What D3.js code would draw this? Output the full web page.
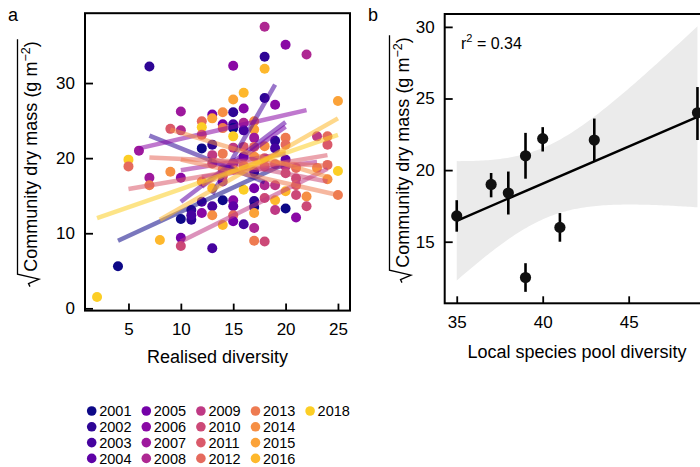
<!DOCTYPE html>
<html><head><meta charset="utf-8">
<script src="https://cdn.jsdelivr.net/npm/d3@7"></script>
<style>body{margin:0;background:#fff} text{font-family:"Liberation Sans",Arial,Helvetica,sans-serif;fill:#000}</style>
</head><body><svg id="c" width="700" height="467"></svg>
<script>
// ---------- DATA ----------
const years = ["2001","2002","2003","2004","2005","2006","2007","2008","2009","2010","2011","2012","2013","2014","2015","2016","2018"];

// panel a: plots (year, realised diversity, sqrt community dry mass), grouped by diversity
const pointYear = [
 "2018",
 "2001",
 "2018","2012",
 "2007",
 "2002","2007","2013",
 "2016",
 "2011","2014",
 "2007","2008","2006","2001","2005","2010",
 "2002","2002","2003",
 "2012","2018","2011","2001","2014","2003","2006",
 "2005","2015","2002","2009","2010","2016","2003","2014","2003",
 "2014","2005","2013","2012","2006","2001","2016","2013","2010",
 "2006","2015","2002","2003","2001","2018","2005","2013","2009","2006","2004","2012","2005",
 "2016","2006","2008","2003","2011","2004","2014","2018","2003",
 "2014","2015","2007","2012","2014","2002","2005","2002","2001","2015","2008","2013",
 "2008","2002","2016","2002","2014","2011","2012","2008","2010","2010",
 "2006","2002","2003","2011","2009","2016","2009",
 "2006","2013","2012","2004","2009","2010","2016","2001",
 "2012","2010","2011","2010","2006",
 "2008","2014","2010",
 "2009","2014",
 "2012","2011","2012","2014",
 "2015","2018","2013"];
const pointDiversity = [
 2,
 4,
 5,5,
 6,
 7,7,7,
 8,
 9,9,
 10,10,10,10,10,10,
 11,11,11,
 12,12,12,12,12,12,12,
 13,13,13,13,13,13,13,13,13,
 14,14,14,14,14,14,14,14,14,
 15,15,15,15,15,15,15,15,15,15,15,15,15,
 16,16,16,16,16,16,16,16,16,
 17,17,17,17,17,17,17,17,17,17,17,17,
 18,18,18,18,18,18,18,18,18,18,
 19,19,19,19,19,19,19,
 20,20,20,20,20,20,20,20,
 21,21,21,21,21,
 22,22,22,
 23,23,
 24,24,24,24,
 25,25,25];
const pointMass = [
 1.5,
 5.6,
 19.8,18.9,
 21.0,
 32.2,17.4,16.4,
 9.1,
 23.9,18.2,
 26.2,23.7,17.4,11.9,9.4,8.3,
 13.1,11.8,12.4,
 24.9,24.1,23.1,21.3,16.9,14.2,12.7,
 25.8,25.3,21.8,20.4,19.3,16.0,13.6,12.4,8.0,
 26.1,24.5,24.0,18.5,16.9,14.4,11.1,20.6,17.6,
 32.3,27.8,26.1,24.5,24.0,22.9,19.3,18.5,21.4,14.4,13.6,12.4,11.6,
 28.7,26.6,24.7,23.7,21.5,20.2,19.0,15.8,11.2,
 24.9,23.8,22.7,21.5,20.2,18.2,16.0,14.3,13.5,12.7,10.7,9.0,
 37.5,33.5,31.9,28.0,21.6,20.0,18.9,16.4,14.7,8.9,
 27.1,22.3,21.3,19.2,16.4,14.4,13.1,
 35.1,22.7,21.8,19.8,18.9,18.0,15.6,13.3,
 18.7,17.3,16.4,15.1,12.1,
 33.8,14.9,13.6,
 22.9,18.7,
 22.9,21.8,19.1,17.2,
 27.6,18.3,15.1];

// panel a: per-year fitted lines (start/end of realised diversity and fitted mass)
const lineYear = ["2001","2002","2003","2004","2005","2006","2007","2008","2009","2010","2011","2012","2013","2014","2015","2016","2018"];
const lineX0 = [4,7,13,10,12,6,10,12,10,13,5,7,10,9,12,8,2];
const lineX1 = [20,18,19,20,20,22,20,23,24,24,24,24,25,24,20,25,25];
const lineY0 = [9.0,23.0,15.2,14.2,16.2,21.3,18.4,17.5,8.9,19.8,15.9,20.1,19.8,23.8,16.5,11.8,12.0];
const lineY1 = [19.3,16.8,29.8,24.8,24.2,26.4,20.6,19.5,18.6,16.9,20.4,19.0,15.1,17.5,21.0,25.3,23.1];

const xTicksA = [5,10,15,20,25];
const yTicksA = [0,10,20,30];

// panel b: local species pool diversity vs mean mass (with error bars)
const poolDiversity = [35,37,38,39,39,40,41,43,49];
const poolMass = [16.8,19.0,18.4,21.0,12.5,22.2,16.0,22.1,24.0];
const poolLow  = [15.7,18.1,16.9,19.4,11.5,21.3,15.0,20.6,22.1];
const poolHigh = [17.9,19.8,19.9,22.6,13.5,23.0,17.0,23.6,25.8];
const xTicksB = [35,40,45];
const yTicksB = [15,20,25,30];
const rSquared = "0.34";

// ---------- DRAW ----------
const svg = d3.select("#c");
const col = y => d3.interpolatePlasma(years.indexOf(y) / (years.length - 1) * 0.9);

function sqrtLabel(cx, cy) {
  const g = svg.append("g").attr("transform", `translate(${cx},${cy}) rotate(-90)`);
  const t = g.append("text").attr("font-size", 18);
  t.append("tspan").text("Community dry mass (g m");
  t.append("tspan").attr("font-size", 12.5).attr("dy", -7).text("\u22122");
  t.append("tspan").attr("dy", 7).text(")");
  const W = t.node().getComputedTextLength();
  const rad = 15;
  const x0 = -(W + rad) / 2 + rad;
  t.attr("x", x0);
  g.append("path")
    .attr("d", `M${x0-15},-7 L${x0-12},-8.5 L${x0-7.5},2 L${x0-2.5},-19.5 L${x0+W+2},-19.5`)
    .attr("fill", "none").attr("stroke", "#000").attr("stroke-width", 1.3);
}

function frame(x0, y0, x1, y1) {
  svg.append("rect").attr("x", x0).attr("y", y0).attr("width", x1 - x0).attr("height", y1 - y0)
    .attr("fill", "none").attr("stroke", "#000").attr("stroke-width", 2);
}

function styleAxis(g) {
  g.select(".domain").remove();
  g.selectAll(".tick line").attr("stroke", "#000").attr("stroke-width", 1.8);
  g.selectAll(".tick text").attr("font-size", 17).attr("fill", "#000")
   .attr("font-family", '"Liberation Sans",Arial,sans-serif');
}

// ----- panel a -----
const ax = d3.scaleLinear().domain([0.85, 26.15]).range([85, 350]);
const ay = d3.scaleLinear().domain([-0.3, 39.3]).range([310.6, 13.2]);

svg.append("g").selectAll("circle").data(pointMass).join("circle")
  .attr("cx", (d, i) => ax(pointDiversity[i]))
  .attr("cy", d => ay(d))
  .attr("r", 5)
  .attr("fill", (d, i) => col(pointYear[i]));

svg.append("g").selectAll("line").data(lineYear).join("line")
  .attr("x1", (d, i) => ax(lineX0[i])).attr("y1", (d, i) => ay(lineY0[i]))
  .attr("x2", (d, i) => ax(lineX1[i])).attr("y2", (d, i) => ay(lineY1[i]))
  .attr("stroke", d => col(d)).attr("stroke-opacity", 0.55).attr("stroke-width", 4.5);

svg.append("g").attr("transform", "translate(0,310.6)")
  .call(d3.axisBottom(ax).tickValues(xTicksA).tickSizeInner(-7).tickSizeOuter(0).tickPadding(12))
  .call(styleAxis);
svg.append("g").attr("transform", "translate(85,0)")
  .call(d3.axisLeft(ay).tickValues(yTicksA).tickSizeInner(-8).tickSizeOuter(0).tickPadding(10))
  .call(styleAxis);
frame(85, 13.2, 350, 310.6);

svg.append("text").attr("x", 217.5).attr("y", 363).attr("text-anchor", "middle")
  .attr("font-size", 18).text("Realised diversity");
sqrtLabel(37, 164);
svg.append("text").attr("x", 8).attr("y", 21).attr("font-size", 18).text("a");

// legend
const leg = svg.append("g");
years.forEach((y, i) => {
  const c = Math.floor(i / 4), r = i % 4;
  const lx = 91.7 + c * 54.6, ly = 411 + r * 15.8;
  leg.append("circle").attr("cx", lx).attr("cy", ly).attr("r", 4.8).attr("fill", col(y));
  leg.append("text").attr("x", lx + 7.5).attr("y", ly + 5.2).attr("font-size", 14.5).text(y);
});

// ----- panel b -----
const bx = d3.scaleLinear().domain([34.3, 49.7]).range([444.7, 709.5]);
const by = d3.scaleLinear().domain([10.7, 30.9]).range([303.3, 14]);

// OLS fit with 95% confidence band computed from the data
const n = poolDiversity.length;
const mx = d3.mean(poolDiversity), my = d3.mean(poolMass);
const sxx = d3.sum(poolDiversity, x => (x - mx) ** 2);
const sxy = d3.sum(poolDiversity, (x, i) => (x - mx) * (poolMass[i] - my));
const slope = sxy / sxx, icpt = my - slope * mx;
const sres = Math.sqrt(d3.sum(poolDiversity, (x, i) => (poolMass[i] - icpt - slope * x) ** 2) / (n - 2));
const tcrit = 2.3646;
const xsB = d3.range(d3.min(poolDiversity), d3.max(poolDiversity) + 0.001, 0.14);
const band = xsB.map(x => {
  const f = icpt + slope * x;
  const h = tcrit * sres * Math.sqrt(1 / n + (x - mx) ** 2 / sxx);
  return { x, f, lo: f - h, hi: f + h };
});

svg.append("path").datum(band)
  .attr("d", d3.area().x(d => bx(d.x)).y0(d => by(d.lo)).y1(d => by(d.hi)))
  .attr("fill", "#ebebeb");
svg.append("path").datum([band[0], band[band.length - 1]])
  .attr("d", d3.line().x(d => bx(d.x)).y(d => by(d.f)))
  .attr("stroke", "#000").attr("stroke-width", 2.4).attr("fill", "none");

svg.append("g").selectAll("line").data(poolMass).join("line")
  .attr("x1", (d, i) => bx(poolDiversity[i])).attr("x2", (d, i) => bx(poolDiversity[i]))
  .attr("y1", (d, i) => by(poolLow[i])).attr("y2", (d, i) => by(poolHigh[i]))
  .attr("stroke", "#000").attr("stroke-width", 2.6);
svg.append("g").selectAll("circle").data(poolMass).join("circle")
  .attr("cx", (d, i) => bx(poolDiversity[i])).attr("cy", d => by(d))
  .attr("r", 5.6).attr("fill", "#111");

svg.append("g").attr("transform", "translate(0,303.3)")
  .call(d3.axisBottom(bx).tickValues(xTicksB).tickSizeInner(-7).tickSizeOuter(0).tickPadding(12.5))
  .call(styleAxis);
svg.append("g").attr("transform", "translate(444.7,0)")
  .call(d3.axisLeft(by).tickValues(yTicksB).tickSizeInner(-8).tickSizeOuter(0).tickPadding(10))
  .call(styleAxis);
frame(444.7, 14, 709.5, 303.3);

svg.append("text").attr("x", 577).attr("y", 358).attr("text-anchor", "middle")
  .attr("font-size", 18).text("Local species pool diversity");
sqrtLabel(409, 160);
svg.append("text").attr("x", 368).attr("y", 21).attr("font-size", 18).text("b");

const rt = svg.append("text").attr("x", 461).attr("y", 49).attr("font-size", 16);
rt.append("tspan").text("r");
rt.append("tspan").attr("font-size", 11).attr("dy", -7).text("2");
rt.append("tspan").attr("dy", 7).text(" = " + rSquared);
</script></body></html>
